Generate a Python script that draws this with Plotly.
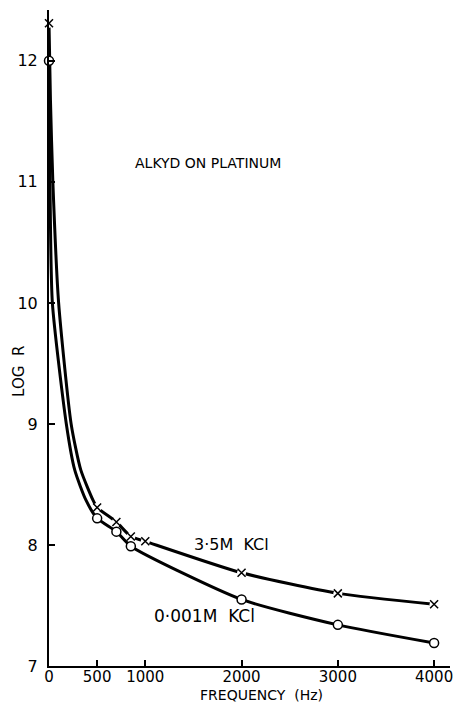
import plotly.graph_objects as go

# Marker data
freq_pts = [0, 500, 700, 850, 1000, 2000, 3000, 4000]
kcl35_logr = [12.31, 8.31, 8.19, 8.07, 8.03, 7.77, 7.60, 7.51]

freq_pts_b = [0, 500, 700, 850, 2000, 3000, 4000]
kcl0001_logr = [12.00, 8.22, 8.11, 7.99, 7.55, 7.34, 7.19]

# Drawn curves
kcl35_curve_f = [0, 15, 40, 100, 230, 330, 457, 500, 700, 850, 1000, 2000, 3000, 4000]
kcl35_curve_y = [12.31, 11.68, 11.0, 10.0, 9.0, 8.62, 8.37, 8.31, 8.19, 8.07, 8.03, 7.77, 7.60, 7.51]

kcl0001_curve_f = [0, 10, 35, 180, 267, 384, 500, 700, 850, 2000, 3000, 4000]
kcl0001_curve_y = [12.00, 11.0, 10.0, 9.0, 8.62, 8.37, 8.22, 8.11, 7.99, 7.55, 7.34, 7.19]

x_ticks = [0, 500, 1000, 2000, 3000, 4000]
y_ticks = [7, 8, 9, 10, 11, 12]

FONT = "DejaVu Sans"

fig = go.Figure()
fig.add_trace(go.Scatter(x=kcl35_curve_f, y=kcl35_curve_y, mode="lines",
                         line=dict(color="black", width=3, shape="spline", smoothing=0.6),
                         hoverinfo="skip", cliponaxis=False))
fig.add_trace(go.Scatter(x=kcl0001_curve_f, y=kcl0001_curve_y, mode="lines",
                         line=dict(color="black", width=3, shape="spline", smoothing=0.6),
                         hoverinfo="skip", cliponaxis=False))
# white gaps behind markers
fig.add_trace(go.Scatter(x=freq_pts, y=kcl35_logr, mode="markers",
                         marker=dict(symbol="circle", size=9, color="white", line=dict(width=0)),
                         hoverinfo="skip", cliponaxis=False))
fig.add_trace(go.Scatter(x=freq_pts, y=kcl35_logr, mode="markers", name="3·5M KCl",
                         marker=dict(symbol="x-thin", size=8, color="black",
                                     line=dict(width=1.5, color="black")),
                         cliponaxis=False))
fig.add_trace(go.Scatter(x=freq_pts_b, y=kcl0001_logr, mode="markers", name="0·001M KCl",
                         marker=dict(symbol="circle", size=9, color="white",
                                     line=dict(width=1.5, color="black")),
                         cliponaxis=False))

annotations = [
    dict(x=1650, y=11.16, text="ALKYD ON PLATINUM", showarrow=False,
         font=dict(family=FONT, size=14, color="black")),
    dict(x=1900, y=8.0, text="3·5M  KCl", showarrow=False,
         font=dict(family=FONT, size=16, color="black")),
    dict(x=1620, y=7.41, text="0·001M  KCl", showarrow=False,
         font=dict(family=FONT, size=17, color="black")),
    dict(x=0.53, y=0, xref="paper", yref="paper", yshift=-19, text="FREQUENCY  (Hz)",
         xanchor="center", yanchor="top", showarrow=False,
         font=dict(family=FONT, size=14, color="black")),
    dict(x=0, y=9.43, xref="paper", xshift=-30, text="LOG  R", textangle=-90,
         xanchor="center", yanchor="middle",
         showarrow=False, font=dict(family=FONT, size=15, color="black")),
]

fig.update_layout(
    width=458, height=702,
    margin=dict(l=49, r=8, t=10, b=36),
    paper_bgcolor="white", plot_bgcolor="white",
    showlegend=False,
    annotations=annotations,
    font=dict(family=FONT, size=16, color="black"),
)
fig.update_xaxes(range=[0, 4165], tickvals=x_ticks, ticktext=[str(v) for v in x_ticks],
                 showgrid=False, zeroline=False, showline=True, linecolor="black", linewidth=2,
                 ticks="inside", ticklen=6, tickwidth=1.5, tickcolor="black",
                 tickfont=dict(size=15), ticklabelstandoff=-4, automargin=False)
fig.update_yaxes(range=[7, 12.42], tickvals=y_ticks, ticktext=[str(v) for v in y_ticks],
                 showgrid=False, zeroline=False, showline=True, linecolor="black", linewidth=2,
                 ticks="inside", ticklen=6, tickwidth=1.5, tickcolor="black",
                 ticklabelstandoff=6, automargin=False)

fig.write_html("out.html")
